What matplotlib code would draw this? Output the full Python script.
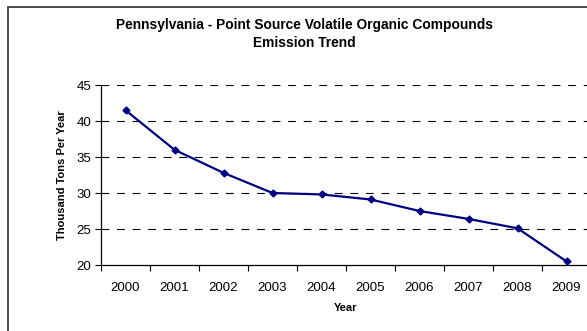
import matplotlib
matplotlib.use('Agg')

import matplotlib.pyplot as plt
from matplotlib.patches import Rectangle

plt.rcParams['font.family'] = ['Liberation Sans', 'DejaVu Sans']

years = ['2000', '2001', '2002', '2003', '2004', '2005', '2006', '2007', '2008', '2009']
voc_tons = [41.5, 36.0, 32.8, 30.0, 29.8, 29.1, 27.5, 26.4, 25.1, 20.5]
y_ticks = [20, 25, 30, 35, 40, 45]

fig = plt.figure(figsize=(5.87, 3.31), dpi=100)

# chart area frame (runs off the right and bottom edges)
fig.patches.append(Rectangle((8 / 587, -0.1), 1.2, 1 - 7 / 331 + 0.1,
                             transform=fig.transFigure, fill=False,
                             edgecolor='#404040', linewidth=1.3))

ax = fig.add_axes([101 / 587, 1 - 265 / 331, 490 / 587, 180 / 331])

x = list(range(len(years)))
ax.plot(x, voc_tons, color='#000080', linewidth=1.6, marker='D',
        markersize=3.5, markerfacecolor='#000080', markeredgecolor='#000080',
        zorder=3)

ax.set_xlim(-0.5, len(years) - 0.5)
ax.set_ylim(20, 45)
ax.set_yticks(y_ticks)
ax.set_yticklabels([str(v) for v in y_ticks], fontsize=9.5)

# category labels centred, tick marks between categories
ax.set_xticks(x)
ax.set_xticklabels(years, fontsize=9.5)
ax.tick_params(axis='x', which='major', length=0, pad=12)
ax.set_xticks([i - 0.5 for i in range(len(years) + 1)], minor=True)
ax.tick_params(axis='x', which='minor', length=4, width=0.8, direction='out')
ax.tick_params(axis='y', length=4, width=0.8, direction='out', pad=3)

for v in y_ticks[1:]:
    ax.axhline(v, color='black', linestyle=(0, (7, 7)), linewidth=0.8, zorder=1)

for side in ['top', 'right']:
    ax.spines[side].set_visible(False)
ax.spines['left'].set_linewidth(0.9)
ax.spines['bottom'].set_linewidth(0.9)

ax.set_xlabel('Year', fontsize=8, fontweight='bold', labelpad=7)
ax.set_ylabel('Thousand Tons Per Year', fontsize=8, fontweight='bold', labelpad=7)

fig.text(304 / 587, 1 - 25 / 331, 'Pennsylvania - Point Source Volatile Organic Compounds',
         ha='center', va='center', fontsize=9.9, fontweight='bold')
fig.text(304 / 587, 1 - 43 / 331, 'Emission Trend',
         ha='center', va='center', fontsize=9.9, fontweight='bold')

fig.savefig('out.png', dpi=100)
